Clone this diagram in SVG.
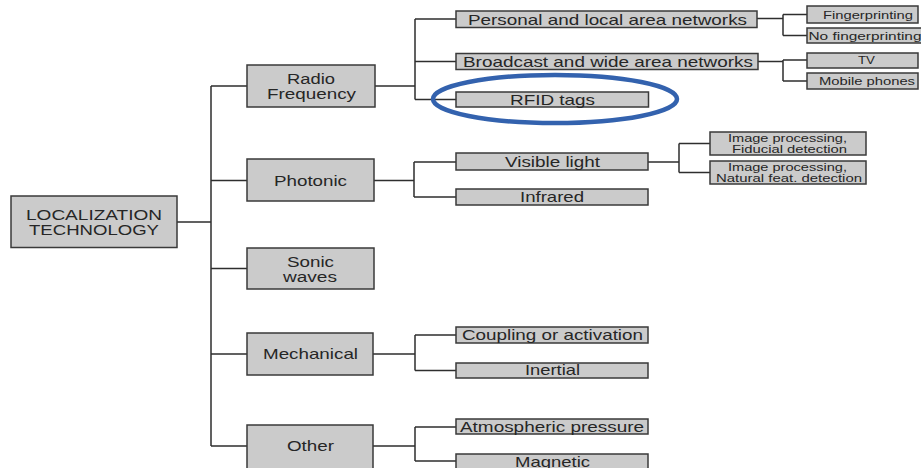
<svg xmlns="http://www.w3.org/2000/svg" width="921" height="468" viewBox="0 0 921 468">
<style>
.box{fill:#cbcbcb;stroke:#3a3a3a;stroke-width:1.5}
.c{fill:none;stroke:#2e2e2e;stroke-width:1.5}
text{font-family:"Liberation Sans",Arial,sans-serif;fill:#262626;text-anchor:middle}
.t1{font-size:15px}
.t2{font-size:14px}
.t3{font-size:11px}
.hl{fill:none;stroke:#3362ae;stroke-width:4.5}
</style>
<rect width="921" height="468" fill="#ffffff"/>
<g id="connectors">
<path class="c" d="M177 222H211M211 86V446M211 86H247M211 180.5H247M211 268.5H247M211 354H247M211 446H247"/>
<path class="c" d="M375 86H415M415 19V99.5M415 19H456M415 61.5H456M415 99.5H456"/>
<path class="c" d="M757 18.5H783M783 14.5V35.5M783 14.5H807M783 35.5H807"/>
<path class="c" d="M758 61.5H783M783 60V81M783 60H807M783 81H807"/>
<path class="c" d="M374 180.5H414M414 162V197M414 162H456M414 197H456"/>
<path class="c" d="M648 162H679M679 143.5V172.5M679 143.5H710M679 172.5H710"/>
<path class="c" d="M373 354H415M415 335V370.5M415 335H456M415 370.5H456"/>
<path class="c" d="M373 446H415M415 427V461M415 427H456M415 461H456"/>
</g>
<g id="root">
<rect class="box" x="11" y="196" width="166" height="51.5"/>
<text class="t2" x="94" y="219.5" textLength="136" lengthAdjust="spacingAndGlyphs">LOCALIZATION</text>
<text class="t2" x="94" y="234.5" textLength="130" lengthAdjust="spacingAndGlyphs">TECHNOLOGY</text>
</g>
<g id="radio">
<rect class="box" x="247" y="65" width="128" height="42"/>
<text class="t2" x="311" y="84" textLength="48" lengthAdjust="spacingAndGlyphs">Radio</text>
<text class="t2" x="311.5" y="99" textLength="89" lengthAdjust="spacingAndGlyphs">Frequency</text>
</g>
<g id="photonic">
<rect class="box" x="247" y="159" width="127" height="42"/>
<text class="t1" x="310.5" y="186" textLength="73" lengthAdjust="spacingAndGlyphs">Photonic</text>
</g>
<g id="sonic">
<rect class="box" x="247" y="248" width="127" height="41"/>
<text class="t2" x="310.5" y="267" textLength="47" lengthAdjust="spacingAndGlyphs">Sonic</text>
<text class="t2" x="310" y="282" textLength="54" lengthAdjust="spacingAndGlyphs">waves</text>
</g>
<g id="mechanical">
<rect class="box" x="247" y="333" width="126" height="42"/>
<text class="t1" x="310.5" y="359" textLength="95" lengthAdjust="spacingAndGlyphs">Mechanical</text>
</g>
<g id="other">
<rect class="box" x="247" y="425" width="126" height="44"/>
<text class="t1" x="310.5" y="451" textLength="47" lengthAdjust="spacingAndGlyphs">Other</text>
</g>
<g id="personal">
<rect class="box" x="456" y="11" width="301" height="16.5"/>
<text class="t1" x="607.5" y="25" textLength="279" lengthAdjust="spacingAndGlyphs">Personal and local area networks</text>
</g>
<g id="broadcast">
<rect class="box" x="456" y="53.5" width="302" height="16"/>
<text class="t1" x="608" y="66.5" textLength="290" lengthAdjust="spacingAndGlyphs">Broadcast and wide area networks</text>
</g>
<g id="rfid">
<rect class="box" x="456" y="92" width="192.5" height="15"/>
<text class="t1" x="552.5" y="104.5" textLength="85" lengthAdjust="spacingAndGlyphs">RFID tags</text>
<ellipse class="hl" cx="555" cy="99" rx="122" ry="24"/>
</g>
<g id="fingerprinting">
<rect class="box" x="807" y="6" width="111" height="17"/>
<text class="t3" x="868" y="18.5" textLength="90" lengthAdjust="spacingAndGlyphs">Fingerprinting</text>
</g>
<g id="nofingerprinting">
<rect class="box" x="807" y="28" width="118" height="15"/>
<text class="t3" x="865" y="40" textLength="113" lengthAdjust="spacingAndGlyphs">No fingerprinting</text>
</g>
<g id="tv">
<rect class="box" x="807" y="53" width="111" height="15"/>
<text class="t3" x="866.5" y="64" textLength="17" lengthAdjust="spacingAndGlyphs">TV</text>
</g>
<g id="mobile">
<rect class="box" x="807" y="73" width="111" height="16"/>
<text class="t3" x="867" y="85" textLength="96" lengthAdjust="spacingAndGlyphs">Mobile phones</text>
</g>
<g id="visible">
<rect class="box" x="456" y="153" width="192" height="17"/>
<text class="t1" x="552.5" y="166.5" textLength="95" lengthAdjust="spacingAndGlyphs">Visible light</text>
</g>
<g id="infrared">
<rect class="box" x="456" y="189" width="192" height="16"/>
<text class="t1" x="552" y="202" textLength="64" lengthAdjust="spacingAndGlyphs">Infrared</text>
</g>
<g id="fiducial">
<rect class="box" x="710" y="132" width="156" height="23"/>
<text class="t3" x="787.5" y="141.5" textLength="119" lengthAdjust="spacingAndGlyphs">Image processing,</text>
<text class="t3" x="789.5" y="152.5" textLength="115" lengthAdjust="spacingAndGlyphs">Fiducial detection</text>
</g>
<g id="natural">
<rect class="box" x="710" y="161" width="156" height="23"/>
<text class="t3" x="787.5" y="170.7" textLength="119" lengthAdjust="spacingAndGlyphs">Image processing,</text>
<text class="t3" x="789" y="182.3" textLength="146" lengthAdjust="spacingAndGlyphs">Natural feat. detection</text>
</g>
<g id="coupling">
<rect class="box" x="456" y="327" width="192" height="16"/>
<text class="t1" x="552.5" y="340" textLength="181" lengthAdjust="spacingAndGlyphs">Coupling or activation</text>
</g>
<g id="inertial">
<rect class="box" x="456" y="363" width="192" height="15"/>
<text class="t1" x="552.5" y="375" textLength="55" lengthAdjust="spacingAndGlyphs">Inertial</text>
</g>
<g id="atmospheric">
<rect class="box" x="456" y="419" width="192" height="15"/>
<text class="t1" x="552" y="431.5" textLength="184" lengthAdjust="spacingAndGlyphs">Atmospheric pressure</text>
</g>
<g id="magnetic">
<rect class="box" x="456" y="454" width="192" height="16"/>
<text class="t1" x="552.5" y="467" textLength="75" lengthAdjust="spacingAndGlyphs">Magnetic</text>
</g>
</svg>
